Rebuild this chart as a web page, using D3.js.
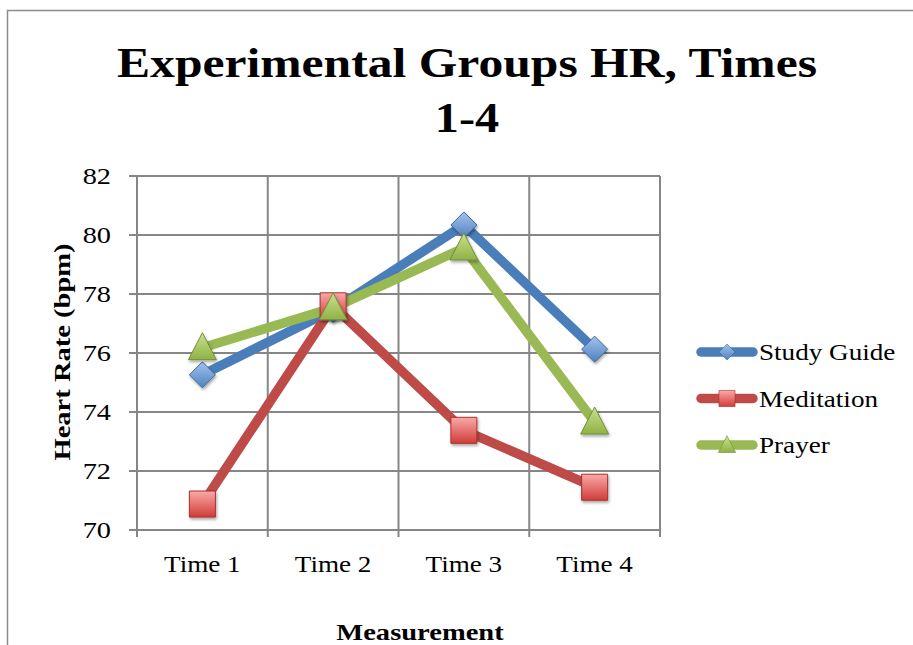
<!DOCTYPE html>
<html>
<head>
<meta charset="utf-8">
<script src="https://cdn.jsdelivr.net/npm/d3@7"></script>
<style>
  body { margin: 0; background: #fff; }
  text { font-family: "Liberation Serif", "DejaVu Serif", serif; }
</style>
</head>
<body>
<div id="container"></div>
<script>
const width = 913; // page size
const height = 645;
const marginLeft = 137; // plot area edges
const marginRight = 253;
const marginTop = 176;
const marginBottom = 115;

const times = ["Time 1", "Time 2", "Time 3", "Time 4"];
const studyGuide = [75.26, 77.47, 80.34, 76.13];
const meditation = [70.88, 77.6, 73.38, 71.45];
const prayer = [76.18, 77.53, 79.56, 73.66];
const yTicks = [70, 72, 74, 76, 78, 80, 82];

const seriesList = [
  {name: "Study Guide", values: studyGuide, color: "#4a7ebb", shape: "diamond", light: "#a3c3ef", dark: "#4f81bd"},
  {name: "Meditation", values: meditation, color: "#be4b48", shape: "square", light: "#f9aaa8", dark: "#d13c39"},
  {name: "Prayer", values: prayer, color: "#98b954", shape: "triangle", light: "#c9e190", dark: "#8fb245"}
];

const x = d3.scaleBand()
  .domain(times)
  .range([marginLeft, width - marginRight]);

const y = d3.scaleLinear()
  .domain([70, 82])
  .range([height - marginBottom, marginTop]);

const svg = d3.select("#container").append("svg")
  .attr("width", width)
  .attr("height", height);

// the original font (Cambria) is wider than Times, so stretch text a bit
function widen(sel, k) {
  sel.each(function() {
    const w = this.getComputedTextLength();
    d3.select(this)
      .attr("textLength", w * k)
      .attr("lengthAdjust", "spacingAndGlyphs");
  });
}

// gradients for the markers
const defs = svg.append("defs");
seriesList.forEach((s, i) => {
  const g = defs.append("linearGradient")
    .attr("id", "grad" + i)
    .attr("x1", 0).attr("y1", 0).attr("x2", 0).attr("y2", 1);
  g.append("stop").attr("offset", "0%").attr("stop-color", s.light);
  g.append("stop").attr("offset", "100%").attr("stop-color", s.dark);
});
const shadow = defs.append("filter").attr("id", "shadow")
  .attr("x", "-50%").attr("y", "-50%").attr("width", "200%").attr("height", "200%");
shadow.append("feDropShadow")
  .attr("dx", 1).attr("dy", 2).attr("stdDeviation", 1.5)
  .attr("flood-color", "#000").attr("flood-opacity", 0.35);

// outer chart frame
svg.append("rect")
  .attr("x", 7.5).attr("y", 10.5)
  .attr("width", 1000).attr("height", 700)
  .attr("fill", "none")
  .attr("stroke", "#8c8c8c")
  .attr("stroke-width", 1.5);

// title
svg.append("text")
  .attr("x", 467).attr("y", 77)
  .attr("text-anchor", "middle")
  .attr("font-weight", "bold")
  .attr("font-size", 42)
  .attr("textLength", 700)
  .attr("lengthAdjust", "spacingAndGlyphs")
  .text("Experimental Groups HR, Times");
svg.append("text")
  .attr("x", 467).attr("y", 132)
  .attr("text-anchor", "middle")
  .attr("font-weight", "bold")
  .attr("font-size", 42)
  .text("1-4")
  .call(widen, 1.15);

// horizontal grid
svg.append("g")
  .selectAll("line")
  .data(yTicks)
  .join("line")
  .attr("x1", marginLeft - 8)
  .attr("x2", width - marginRight)
  .attr("y1", d => y(d))
  .attr("y2", d => y(d))
  .attr("stroke", "#868686")
  .attr("stroke-width", 2);

// vertical grid at band edges
const edges = times.map(t => x(t)).concat([x(times[times.length - 1]) + x.bandwidth()]);
svg.append("g")
  .selectAll("line")
  .data(edges)
  .join("line")
  .attr("x1", d => d)
  .attr("x2", d => d)
  .attr("y1", marginTop)
  .attr("y2", height - marginBottom + 7)
  .attr("stroke", "#868686")
  .attr("stroke-width", 2);

// y tick labels
svg.append("g")
  .selectAll("text")
  .data(yTicks)
  .join("text")
  .attr("x", 111)
  .attr("y", d => y(d))
  .attr("dy", "0.35em")
  .attr("text-anchor", "end")
  .attr("font-size", 24)
  .text(d => d)
  .call(widen, 1.18);

// x tick labels
svg.append("g")
  .selectAll("text")
  .data(times)
  .join("text")
  .attr("x", d => x(d) + x.bandwidth() / 2)
  .attr("y", 572)
  .attr("text-anchor", "middle")
  .attr("font-size", 24)
  .text(d => d)
  .call(widen, 1.13);

// axis titles
svg.append("text")
  .attr("x", 420).attr("y", 640)
  .attr("text-anchor", "middle")
  .attr("font-weight", "bold")
  .attr("font-size", 23)
  .text("Measurement")
  .call(widen, 1.24);
svg.append("text")
  .attr("transform", "translate(70,352) rotate(-90)")
  .attr("text-anchor", "middle")
  .attr("font-weight", "bold")
  .attr("font-size", 23)
  .text("Heart Rate (bpm)")
  .call(widen, 1.24);

function markerPath(shape) {
  if (shape === "diamond") return "M0,-13L13,0L0,13L-13,0Z";
  if (shape === "square") return "M-13,-13H13V13H-13Z";
  return "M0,-15L14,12H-14Z";
}

const line = d3.line()
  .x((d, i) => x(times[i]) + x.bandwidth() / 2)
  .y(d => y(d));

seriesList.forEach((s, i) => {
  svg.append("path")
    .datum(s.values)
    .attr("d", line)
    .attr("fill", "none")
    .attr("stroke", s.color)
    .attr("stroke-width", 9.5)
    .attr("stroke-linejoin", "round");
});

seriesList.forEach((s, i) => {
  svg.append("g")
    .selectAll("path")
    .data(s.values)
    .join("path")
    .attr("transform", (d, j) => `translate(${x(times[j]) + x.bandwidth() / 2},${y(d)})`)
    .attr("d", markerPath(s.shape))
    .attr("fill", `url(#grad${i})`)
    .attr("stroke", d3.color(s.dark).darker(0.6))
    .attr("stroke-width", 1)
    .attr("filter", "url(#shadow)");
});

// legend
const legend = svg.append("g")
  .selectAll("g")
  .data(seriesList)
  .join("g")
  .attr("transform", (d, i) => `translate(697,${352 + i * 46.5})`);
legend.append("line")
  .attr("x1", 4).attr("x2", 56)
  .attr("stroke", d => d.color)
  .attr("stroke-width", 9.5)
  .attr("stroke-linecap", "round");
legend.append("path")
  .attr("transform", "translate(30,0) scale(0.62)")
  .attr("d", d => markerPath(d.shape))
  .attr("fill", (d, i) => `url(#grad${i})`)
  .attr("stroke", d => d3.color(d.dark).darker(0.6))
  .attr("stroke-width", 1);
legend.append("text")
  .attr("x", 62)
  .attr("dy", "0.35em")
  .attr("font-size", 24)
  .text(d => d.name)
  .call(widen, 1.13);
</script>
</body>
</html>
